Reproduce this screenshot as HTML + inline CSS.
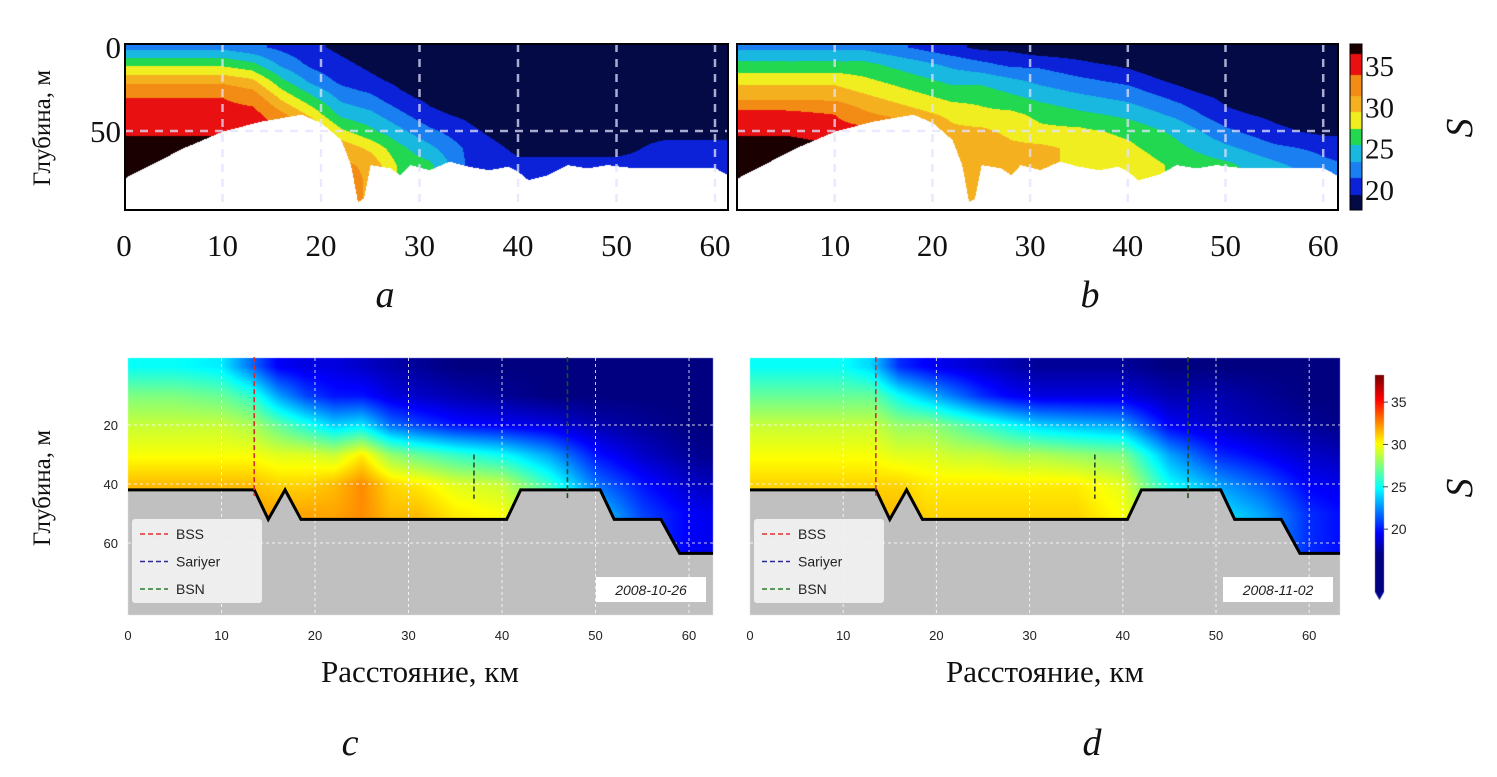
<!DOCTYPE html>
<html><head><meta charset="utf-8">
<style>
html,body{margin:0;padding:0;background:#fff;}
#wrap{position:relative;width:1497px;height:777px;overflow:hidden;}
canvas,svg{position:absolute;left:0;top:0;}
</style></head>
<body>
<div id="wrap">
<canvas id="cv" width="1497" height="777"></canvas>
<svg id="sv" width="1497" height="777" xmlns="http://www.w3.org/2000/svg"></svg>
</div>
<script>
// ---- data ----
const xsKm = [0,5,10,13,16,19,22,25,28,31,35,40,45,50,55,60,65];
const depthsTop = [0,10,20,30,40,50,60,70,80,90,100];
const depthsBot = [0,10,20,30,40,50,60,70,80];
const salA = [
[23,27,31,34,35,36,38,38,38,38,38],[23,27,31,34,35,36,38,38,38,38,38],[23,27,31,34,35,36,38,38,38,38,38],
[22,26,30,33,35,36,37,38,38,38,38],[21,23,26,29,32,34,35,35,35,35,35],[20,21,23,26,29,32,33,33,33,33,33],
[19,20,21,23,25,28,31,32,33,33,33],[18,19,20,22,24,26,29,31,31,31,31],[17,18,19,20,22,24,26,27,27,27,27],
[17,17,18,19,20,22,24,26,26,26,26],[17,17,17,18,19,20,21,21,21,21,21],[17,17,17,17,17,18,19,20,20,20,20],
[17,17,17,17,18,19,19,20,20,20,20],[17,17,17,17,18,19,19,20,20,20,20],[17,17,17,18,19,19,20,20,20,20,20],
[17,17,17,18,19,19,20,20,20,20,20],[17,17,17,18,19,19,20,20,20,20,20]];
const salB = [
[23,26,29,31,35,36,38,38,38,38,38],[23,26,29,31,35,36,38,38,38,38,38],[23,26,29,31,34,35,37,38,38,38,38],
[23,26,28,30,32,35,35,35,35,35,35],[22,25,27,29,31,34,34,34,34,34,34],[21,24,26,28,30,32,31,31,31,31,31],
[20,23,25,27,29,30,31,31,31,31,31],[19,22,25,27,28,30,31,31,31,31,31],[19,21,24,26,28,29,30,31,31,31,31],
[18,21,23,25,27,28,30,30,30,30,30],[18,20,22,24,26,28,29,29,29,29,29],[17,19,21,23,25,27,28,29,29,29,29],
[17,17,19,21,23,25,26,27,27,27,27],[17,17,17,19,20,22,24,26,26,26,26],[17,17,17,18,19,20,22,24,25,25,25],
[17,17,17,17,18,19,21,22,24,24,24],[17,17,17,17,18,19,20,21,23,23,23]];
const salC = [
[25,27.5,29,30,31.5,32,32,32,32],[25,27.5,29,30,31.5,32,32,32,32],[24.5,27,29,30,31.5,32,32,32,32],
[22,26,28.5,30,31.5,32,32,32,32],[19.5,23,27,29.5,31,32,32,32,32],[19,21,25.5,29.5,31,32,32,32,32],
[19,20,24,29,31.5,32,32,32,32],[18.5,20,24.5,30.5,32.5,32.5,32.5,32.5,32.5],[18,19,22,28,31,31.5,31.5,31.5,31.5],
[17.5,18.5,21,27,30.5,31.5,31.5,31.5,31.5],[17,18,20,26,29.5,30.5,30.5,30.5,30.5],[17,17.5,19.5,25,29,30,30,30,30],
[17,17,19,23,26,28,28,28,28],[17,17,18,20,22,24,24,24,24],[17,17,17.5,18.5,20,21,21,21,21],
[17,17,17,17.5,18.5,19.5,19.5,19.5,19.5],[17,17,17,17,18,19,19,19,19]];
const salD = [
[25,27,29,30,31,31.5,31.5,31.5,31.5],[25,27,29,30,31,31.5,31.5,31.5,31.5],[25,27,29,30,31,31.5,31.5,31.5,31.5],
[24,27,29,30,31,31.5,31.5,31.5,31.5],[20.5,25,28,29.5,31,31.5,31.5,31.5,31.5],[19.5,23.5,28,29.5,30.5,31,31,31,31],
[19,22,27,29,30.5,31,31,31,31],[18.5,20.5,26,29,30.5,31,31,31,31],[18,19.5,25,28.5,30.5,31,31,31,31],
[17.5,19,24,28.5,30.5,31,31,31,31],[17.5,19,23.5,28,30.5,31,31,31,31],[17.5,19,23,27.5,29.5,30,30,30,30],
[17,18,19.5,23,25,27,27,27,27],[17,18,18.5,20.5,23,24.5,24.5,24.5,24.5],[17,17.5,18,19.5,21.5,23,23,23,23],
[17,17,17.5,18.5,19.5,20.5,20.5,20.5,20.5],[17,17,17,18,19,19.5,19.5,19.5,19.5]];
const bathyTopX = [0,2,4,6,8,10,12,14,16,18,20,22,23,23.7,24.3,25,27,28,29,31,33,35,37,39,40,41,43,45,47,49,52,56,60,62,64];
const bathyTopD = [78,72,66,60,55,50,47,44,42,40,45,55,70,92,90,70,72,76,70,73,68,71,73,71,74,79,76,70,72,70,72,72,72,78,80];
const bathyBotX = [0,13.5,15,16.8,18.5,40.5,42,50.5,52,57,59,65];
const bathyBotD = [42,42,52,42,52,52,42,42,52,52,63.5,63.5];
const xTicks = [0,10,20,30,40,50,60];
const depthTicksTop = [0,50];
const depthTicksBot = [20,40,60];
const cbTicksTop = [20,25,30,35];
const cbTicksBot = [20,25,30,35];
const legendNames = ['BSS','Sariyer','BSN'];
const legendColors = ['#e03030','#2a2a9a','#2a7a2a'];
const dates = ['2008-10-26','2008-11-02'];
const stationKm = [13.5,37,47];
const stationTop = [-3,30,-3];
const stationBot = [44,45,45];
const levelEdges = [19.5,21.5,23.5,25.5,27.5,29.5,31.5,34,36.5];
const levelColors = ['#030a45','#0b22d8','#1a7ff0','#18b8e0','#22d850','#f0ee20','#f5b020','#f28c14','#e81010','#1a0000'];

// ---- panels ----
const P = {
 a:{x0:124,kx:9.85,y0:47,ky:1.68,L:125,R:728,T:44,B:210,grid:salA,ds:depthsTop,bx:bathyTopX,bd:bathyTopD,top:true},
 b:{x0:737,kx:9.77,y0:47,ky:1.68,L:737,R:1338,T:44,B:210,grid:salB,ds:depthsTop,bx:bathyTopX,bd:bathyTopD,top:true},
 c:{x0:128,kx:9.35,y0:366,ky:2.95,L:128,R:713,T:358,B:615,grid:salC,ds:depthsBot,bx:bathyBotX,bd:bathyBotD,top:false},
 d:{x0:750,kx:9.32,y0:366,ky:2.95,L:750,R:1340,T:358,B:615,grid:salD,ds:depthsBot,bx:bathyBotX,bd:bathyBotD,top:false}
};
function px(p,km){return p.x0+km*p.kx;}
function py(p,d){return p.y0+d*p.ky;}
function interp1(xa,ya,x){if(x<=xa[0])return ya[0];for(let i=1;i<xa.length;i++){if(x<=xa[i]){const t=(x-xa[i-1])/(xa[i]-xa[i-1]);return ya[i-1]+t*(ya[i]-ya[i-1]);}}return ya[ya.length-1];}
function idx(a,v){if(v<=a[0])return[0,0];for(let i=1;i<a.length;i++)if(v<=a[i])return[i-1,(v-a[i-1])/(a[i]-a[i-1])];return[a.length-2,1];}
function val(g,ds,km,d){const[i,tx]=idx(xsKm,km);const[j,ty]=idx(ds,Math.max(0,d));
 const v00=g[i][j],v10=g[i+1][j],v01=g[i][j+1],v11=g[i+1][j+1];
 return v00*(1-tx)*(1-ty)+v10*tx*(1-ty)+v01*(1-tx)*ty+v11*tx*ty;}
function jet(t){t=Math.max(0,Math.min(1,t));const r=Math.min(Math.max(Math.min(4*t-1.5,-4*t+4.5),0),1),g=Math.min(Math.max(Math.min(4*t-0.5,-4*t+3.5),0),1),b=Math.min(Math.max(Math.min(4*t+0.5,-4*t+2.5),0),1);return[r*255,g*255,b*255];}
function hex(h){return[parseInt(h.substr(1,2),16),parseInt(h.substr(3,2),16),parseInt(h.substr(5,2),16)];}
const lvlRGB=levelColors.map(hex);
function lvl(v){let k=0;while(k<levelEdges.length&&v>=levelEdges[k])k++;return lvlRGB[k];}
const ctx=document.getElementById('cv').getContext('2d');
const img=ctx.createImageData(1497,777);
for(const k in P){const p=P[k];
 for(let y=p.T;y<p.B;y++)for(let x=p.L;x<p.R;x++){
  const km=(x-p.x0)/p.kx,d=(y-p.y0)/p.ky;const bd=interp1(p.bx,p.bd,km);let c;
  if(d>bd)c=p.top?[255,255,255]:[192,192,192];
  else{const v=val(p.grid,p.ds,km,d);c=p.top?lvl(v):jet((v-17)/21);}
  const o=(y*1497+x)*4;img.data[o]=c[0];img.data[o+1]=c[1];img.data[o+2]=c[2];img.data[o+3]=255;}}
// colorbars
for(let y=44;y<210;y++){const v=37.7-(y-44)/8.27;const c=lvl(v);for(let x=1350;x<1362;x++){const o=(y*1497+x)*4;img.data[o]=c[0];img.data[o+1]=c[1];img.data[o+2]=c[2];img.data[o+3]=255;}}
for(let y=375;y<592;y++){const v=38.2-(y-375)/8.47;const c=jet((v-17)/21);for(let x=1375;x<1384;x++){const o=(y*1497+x)*4;img.data[o]=c[0];img.data[o+1]=c[1];img.data[o+2]=c[2];img.data[o+3]=255;}}
ctx.putImageData(img,0,0);
ctx.fillStyle='rgb(0,0,140)';ctx.beginPath();ctx.moveTo(1375,592);ctx.lineTo(1384,592);ctx.lineTo(1379.5,600);ctx.fill();

// ---- svg overlay ----
const NS='http://www.w3.org/2000/svg';const sv=document.getElementById('sv');
function el(tag,attrs,parent,text){const e=document.createElementNS(NS,tag);for(const a in attrs)e.setAttribute(a,attrs[a]);if(text!==undefined)e.textContent=text;(parent||sv).appendChild(e);return e;}
const serif='"Liberation Serif", "Noto Serif CJK SC", serif';const sans='"Liberation Sans", "Noto Sans CJK SC", sans-serif';
for(const k of ['a','b','c','d']){const p=P[k];
 const g=el('g',{});
 
 
 for(const t of xTicks){if(t===0)continue;const x=px(p,t);if(x>p.R)continue;
  const ln=el('line',{x1:x,x2:x,y1:p.T,y2:p.B,stroke:p.top?'rgba(225,225,255,0.75)':'rgba(255,255,255,0.8)','stroke-width':p.top?2.5:1,'stroke-dasharray':p.top?'8 7':'3 3'},g);
  
  }
 const hd=p.top?[50]:depthTicksBot;
 for(const d of hd){const y=py(p,d);const ln=el('line',{x1:p.L,x2:p.R,y1:y,y2:y,stroke:p.top?'rgba(225,225,255,0.75)':'rgba(255,255,255,0.8)','stroke-width':p.top?2.5:1,'stroke-dasharray':p.top?'8 7':'3 3'},g);
  
  }
 if(p.top){const r=el('rect',{x:p.L,y:p.T,width:p.R-p.L,height:p.B-p.T,fill:'none',stroke:'#000','stroke-width':2},g);
  
  }
 else{
  const pts=bathyBotX.map((x,i)=>Math.min(px(p,x),p.R)+','+py(p,bathyBotD[i])).join(' ');
  const pl=el('polyline',{points:pts,fill:'none',stroke:'#000','stroke-width':3,'stroke-linejoin':'miter'},g);
  
  
  const sc=['#d03030','#2e4a2e','#1f4f1f'];
  stationKm.forEach((s,i)=>{const ln=el('line',{x1:px(p,s),x2:px(p,s),y1:py(p,stationTop[i]),y2:py(p,stationBot[i]),stroke:sc[i],'stroke-width':1.6,'stroke-dasharray':'5 3'},g);
   
   });
  const lg=el('g',{},g);
  
  
  el('rect',{x:p.L+4,y:519,width:130,height:84,rx:3,fill:'rgba(242,242,242,0.92)'},lg);
  legendNames.forEach((n,i)=>{const y=534+i*27.5;
   const ln=el('line',{x1:p.L+12,x2:p.L+40,y1:y,y2:y,stroke:legendColors[i],'stroke-width':1.6,'stroke-dasharray':'5 3'},lg);
   
   
   const tx=el('text',{x:p.L+48,y:y+5,'font-family':sans,'font-size':14,fill:'#222'},lg,n);
   
   });
  const di=k==='c'?0:1;const bx=p.R-117;
  el('rect',{x:bx,y:577,width:110,height:25,fill:'#fff'},g);
  const dt=el('text',{x:bx+55,y:595,'text-anchor':'middle','font-family':sans,'font-style':'italic','font-size':14,fill:'#222'},g,dates[di]);
  
  
 }
 for(const t of xTicks){if(k==='b'&&t===0)continue;const x=px(p,t);
  const tx=p.top?el('text',{x:x,y:256,'text-anchor':'middle','font-family':serif,'font-size':31,fill:'#111'},g,String(t))
                 :el('text',{x:x,y:640,'text-anchor':'middle','font-family':sans,'font-size':13,fill:'#222'},g,String(t));
  
  }
 if(k==='a'){for(const d of depthTicksTop){const tx=el('text',{x:121,y:py(p,d)+11,'text-anchor':'end','font-family':serif,'font-size':31,fill:'#111'},g,String(d));
   
   }}
 if(k==='c'){for(const d of depthTicksBot){const tx=el('text',{x:118,y:py(p,d)+5,'text-anchor':'end','font-family':sans,'font-size':13,fill:'#222'},g,String(d));
   
   }}
}
for(const t of cbTicksTop){const tx=el('text',{x:1365,y:190-(t-20)*8.27+10,'font-family':serif,'font-size':29,fill:'#111'},sv,String(t));
 
 }
el('rect',{x:1350,y:44,width:12,height:166,fill:'none',stroke:'#000','stroke-width':1});
for(const t of cbTicksBot){const y=375+(38.2-t)*8.47;el('line',{x1:1383,x2:1388,y1:y,y2:y,stroke:'#444'});
 const tx=el('text',{x:1391,y:y+5,'font-family':sans,'font-size':14,fill:'#222'},sv,String(t));
 
 }
function rot(x,y,txt,size,name,font,style){const t=el('text',{x:0,y:0,transform:'translate('+x+','+y+') rotate(-90)','text-anchor':'middle','font-family':font,'font-size':size,'font-style':style||'normal',fill:'#111'},sv,txt);
 
 }
rot(50,128,'Глубина, м',25,'y-axis-title-top',serif);
rot(50,488,'Глубина, м',25,'y-axis-title-bottom',serif);
rot(1472,128,'S',38,'colorbar-title-top',serif,'italic');
rot(1472,488,'S',38,'colorbar-title-bottom',serif,'italic');
[['a',385,307],['b',1090,307],['c',350,755],['d',1092,755]].forEach(([l,x,y])=>{const t=el('text',{x:x,y:y,'text-anchor':'middle','font-family':serif,'font-size':38,'font-style':'italic',fill:'#111'},sv,l);
 
 });
[[420,'x-axis-title-c'],[1045,'x-axis-title-d']].forEach(([x,n])=>{const t=el('text',{x:x,y:682,'text-anchor':'middle','font-family':serif,'font-size':31,fill:'#111'},sv,'Расстояние, км');
 
 });
</script>
</body></html>
